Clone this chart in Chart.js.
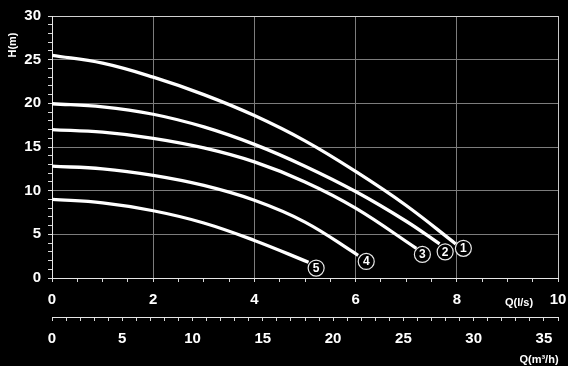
<!DOCTYPE html>
<html><head><meta charset="utf-8">
<script src="https://cdn.jsdelivr.net/npm/chart.js@4"></script>
<style>html,body{margin:0;padding:0;background:#000;}canvas{display:block}</style>
</head><body>
<canvas id="c" width="568" height="366"></canvas>
<script>
// Pump curves: Q in l/s, H in m
const q1 = [0, 1, 2, 3, 4, 5, 6, 7, 7.98];
const h1 = [25.5, 24.6, 23.0, 21.0, 18.6, 15.7, 12.2, 8.3, 3.9];
const q2 = [0, 1, 2, 3, 4, 5, 6, 7, 7.66];
const h2 = [19.95, 19.6, 18.75, 17.3, 15.3, 12.8, 9.9, 6.5, 3.9];
const q3 = [0, 1, 2, 3, 4, 5, 6, 7.2];
const h3 = [17.0, 16.7, 16.0, 14.9, 13.3, 11.0, 8.0, 3.4];
const q4 = [0, 1, 2, 3, 4, 5, 6.05];
const h4 = [12.8, 12.5, 11.75, 10.6, 8.9, 6.4, 2.6];
const q5 = [0, 1, 2, 3, 4, 5.07];
const h5 = [9.0, 8.6, 7.7, 6.3, 4.3, 1.8];
const curveQ = [q1, q2, q3, q4, q5];
const curveH = [h1, h2, h3, h4, h5];
// circled curve numbers
const markText = ['1', '2', '3', '4', '5'];
const markQ = [8.13, 7.77, 7.32, 6.21, 5.22];
const markH = [3.4, 3.0, 2.7, 1.9, 1.14];
// axes
const qMax = 10, hMax = 30, m3hMax = 36;
const qLabelEvery = 2, hLabelEvery = 5, m3hLabelEvery = 5, m3hLabelMax = 35;

const FONT = "'Liberation Sans', Arial, sans-serif";
const datasets = curveQ.map((qs, i) => ({
  data: qs.map((q, j) => ({x: q, y: curveH[i][j]})),
  borderColor: '#ffffff',
  borderWidth: 3.3,
  pointRadius: 0,
  fill: false,
  tension: 0.4,
  xAxisID: 'x', yAxisID: 'y'
}));

const deco = {
  id: 'deco',
  afterDatasetsDraw(chart) {
    const ctx = chart.ctx, xs = chart.scales.x, ys = chart.scales.y, x2 = chart.scales.x2;
    ctx.save();
    for (let i = 0; i < markText.length; i++) {
      const px = xs.getPixelForValue(markQ[i]), py = ys.getPixelForValue(markH[i]);
      ctx.beginPath();
      ctx.arc(px, py, 8, 0, Math.PI * 2);
      ctx.fillStyle = '#000';
      ctx.fill();
      ctx.lineWidth = 1.2;
      ctx.strokeStyle = '#e8e8e8';
      ctx.stroke();
      ctx.fillStyle = '#fff';
      ctx.font = 'bold 12px ' + FONT;
      ctx.textAlign = 'center';
      ctx.textBaseline = 'middle';
      ctx.fillText(markText[i], px, py + 0.5);
    }
    ctx.fillStyle = '#fff';
    ctx.font = 'bold 11px ' + FONT;
    ctx.textAlign = 'center';
    ctx.textBaseline = 'middle';
    ctx.fillText('Q(l/s)', xs.right - 39, xs.top + 25);
    ctx.fillText('Q(m\u00B3/h)', x2.right - 19, x2.top + 43);
    ctx.translate(ys.left + 12.5, ys.top + 29);
    ctx.rotate(-Math.PI / 2);
    ctx.fillText('H(m)', 0, 0);
    ctx.restore();
  }
};

new Chart(document.getElementById('c'), {
  type: 'line',
  data: {datasets},
  options: {
    responsive: false,
    animation: false,
    devicePixelRatio: 1,
    layout: {padding: {top: 15, right: 0, left: 0, bottom: 0}},
    plugins: {legend: {display: false}, tooltip: {enabled: false}},
    scales: {
      x: {
        type: 'linear', position: 'bottom', min: 0, max: qMax, weight: 0,
        afterFit(s) { s.height = 39; s.paddingRight = 10; s.paddingLeft = 0; },
        border: {color: '#e6e6e6', width: 1},
        grid: {
          color: c => (c.tick && c.tick.value % qLabelEvery === 0 && c.tick.value > 0) ? (c.tick.value === qMax ? '#c8c8c8' : '#7c7c7c') : 'transparent',
          tickColor: '#d8d8d8', tickLength: 4, lineWidth: 1
        },
        ticks: {
          stepSize: 0.5, autoSkip: false, maxRotation: 0, padding: 9, color: '#fff',
          font: {family: FONT, size: 15, weight: 'bold'},
          callback: v => (v % qLabelEvery === 0 ? String(v) : '')
        }
      },
      x2: {
        type: 'linear', position: 'bottom', min: 0, max: m3hMax, weight: 1,
        afterFit(s) { s.height = 49; s.paddingRight = 10; s.paddingLeft = 0; },
        border: {color: '#e6e6e6', width: 1},
        grid: {drawOnChartArea: false, tickColor: '#d8d8d8', tickLength: 4},
        ticks: {
          stepSize: 1, autoSkip: false, maxRotation: 0, padding: 9, color: '#fff',
          font: {family: FONT, size: 15, weight: 'bold'},
          callback: v => (v % m3hLabelEvery === 0 && v <= m3hLabelMax ? String(v) : '')
        }
      },
      y: {
        type: 'linear', position: 'left', min: 0, max: hMax,
        afterFit(s) { s.width = 52; },
        border: {color: '#e6e6e6', width: 1},
        grid: {
          color: c => (c.tick && c.tick.value % hLabelEvery === 0 && c.tick.value > 0) ? (c.tick.value === hMax ? '#d0d0d0' : '#7c7c7c') : 'transparent',
          tickColor: '#d8d8d8', tickLength: 4, lineWidth: 1
        },
        ticks: {
          stepSize: 1, autoSkip: false, padding: 7, color: '#fff',
          font: {family: FONT, size: 15, weight: 'bold'},
          callback: v => (v % hLabelEvery === 0 ? String(v) : '')
        }
      }
    }
  },
  plugins: [deco]
});
</script>
</body></html>
